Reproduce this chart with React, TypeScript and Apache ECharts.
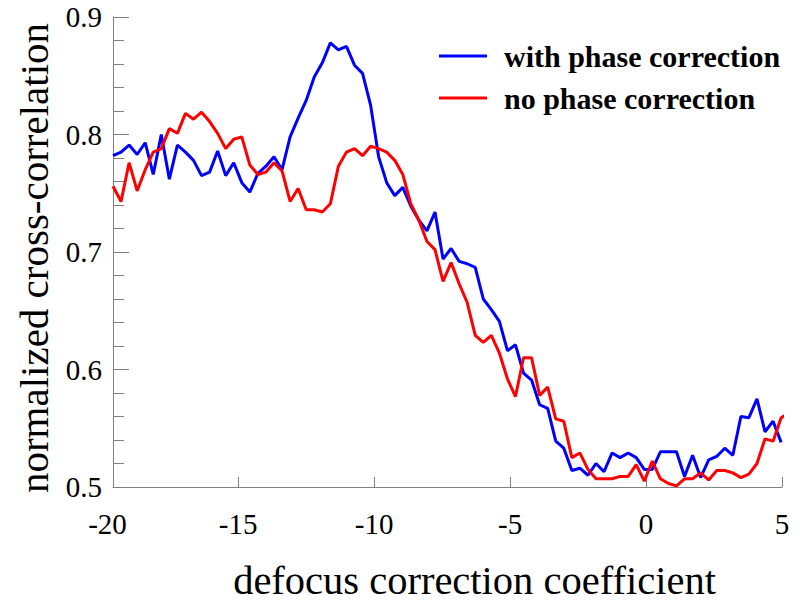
import React, { useEffect, useRef } from "react";
import * as echarts from "echarts";

// defocus correction coefficient (uniform sampling grid)
const xValues = [
  -19.6, -19.304, -19.008, -18.712, -18.416, -18.12, -17.824, -17.528, -17.232, -16.936,
  -16.64, -16.344, -16.048, -15.752, -15.456, -15.16, -14.864, -14.568, -14.272, -13.976,
  -13.68, -13.384, -13.088, -12.792, -12.496, -12.2, -11.904, -11.608, -11.312, -11.016,
  -10.72, -10.424, -10.128, -9.832, -9.536, -9.24, -8.944, -8.648, -8.352, -8.056,
  -7.76, -7.464, -7.168, -6.872, -6.576, -6.28, -5.984, -5.688, -5.392, -5.096,
  -4.8, -4.504, -4.208, -3.912, -3.616, -3.32, -3.024, -2.728, -2.432, -2.136,
  -1.84, -1.544, -1.248, -0.952, -0.656, -0.36, -0.064, 0.232, 0.528, 0.824,
  1.12, 1.416, 1.712, 2.008, 2.304, 2.6, 2.896, 3.192, 3.488, 3.784,
  4.08, 4.376, 4.672, 4.968, 5.264,
];

const withPhaseCorrection = [
  0.782, 0.785, 0.791, 0.783, 0.793, 0.766, 0.8, 0.762, 0.791, 0.785,
  0.778, 0.765, 0.768, 0.786, 0.765, 0.776, 0.759, 0.751, 0.767, 0.773,
  0.781, 0.77, 0.798, 0.814, 0.829, 0.849, 0.861, 0.878, 0.872, 0.875,
  0.859, 0.852, 0.825, 0.781, 0.759, 0.748, 0.755, 0.739, 0.727, 0.718,
  0.734, 0.694, 0.703, 0.692, 0.69, 0.687, 0.66, 0.651, 0.641, 0.616,
  0.621, 0.597, 0.591, 0.57, 0.567, 0.539, 0.533, 0.514, 0.516, 0.51,
  0.52, 0.513, 0.529, 0.525, 0.529, 0.525, 0.515, 0.515, 0.53, 0.53,
  0.53, 0.509, 0.527, 0.508, 0.523, 0.526, 0.533, 0.527, 0.56, 0.559,
  0.575, 0.547, 0.556, 0.538,
];

const noPhaseCorrection = [
  0.756, 0.743, 0.776, 0.752, 0.77, 0.785, 0.788, 0.805, 0.801, 0.818,
  0.813, 0.819, 0.811, 0.801, 0.788, 0.796, 0.798, 0.774, 0.766, 0.768,
  0.776, 0.769, 0.743, 0.754, 0.736, 0.736, 0.734, 0.741, 0.773, 0.785,
  0.788, 0.782, 0.79, 0.788, 0.785, 0.778, 0.766, 0.741, 0.727, 0.709,
  0.702, 0.675, 0.691, 0.673, 0.657, 0.629, 0.623, 0.629, 0.614, 0.592,
  0.577, 0.61, 0.61, 0.578, 0.585, 0.558, 0.556, 0.525, 0.529, 0.515,
  0.507, 0.507, 0.507, 0.509, 0.509, 0.519, 0.505, 0.522, 0.507, 0.503,
  0.501, 0.507, 0.507, 0.512, 0.506, 0.514, 0.514, 0.512, 0.508, 0.511,
  0.52, 0.541, 0.539, 0.559, 0.563,
];

const xTickValues = [-15, -10, -5, 0, 5];
const xLabelValues = [-19.6, -15, -10, -5, 0, 5];
const seriesNames = ["with phase correction", "no phase correction"];

const FONT = "Liberation Serif";
const AXIS_GRAY = "#808080";

export default function App() {
  const ref = useRef<HTMLDivElement>(null);

  useEffect(() => {
    if (!ref.current) return;
    const chart = echarts.init(ref.current, undefined, { renderer: "svg" });
    chart.setOption({
      animation: false,
      backgroundColor: "#ffffff",
      textStyle: { fontFamily: FONT },
      grid: {
        left: 113,
        top: 17,
        width: 669,
        height: 470,
        containLabel: false,
        outerBoundsMode: "none",
      },
      legend: {
        orient: "vertical",
        left: 439,
        top: 41,
        padding: 0,
        icon: "rect",
        itemWidth: 48,
        itemHeight: 3,
        itemGap: 12,
        data: seriesNames,
        textStyle: {
          fontFamily: FONT,
          fontWeight: "bold",
          fontSize: 30,
          lineHeight: 28,
          color: "#000",
          padding: [0, 0, 0, 12],
        },
      },
      xAxis: {
        type: "value",
        min: -19.6,
        max: 5,
        axisLine: { show: true, onZero: false, lineStyle: { color: AXIS_GRAY, width: 1 } },
        axisTick: {
          show: true,
          inside: true,
          length: 10,
          customValues: xTickValues,
          lineStyle: { color: AXIS_GRAY, width: 1 },
        },
        axisLabel: {
          customValues: xLabelValues,
          margin: 22,
          fontFamily: FONT,
          fontSize: 29,
          color: "#000",
          formatter: (v: number) => (v < -19 ? "{a|-20}" : String(v)),
          rich: {
            a: { fontFamily: FONT, fontSize: 29, color: "#000", padding: [0, 11, 0, 0] },
          },
        },
        splitLine: { show: false },
        name: "defocus correction coefficient",
        nameLocation: "middle",
        nameGap: 73,
        nameTextStyle: { fontFamily: FONT, fontSize: 40.5, color: "#000", padding: [0, 0, 0, 54] },
      },
      yAxis: {
        type: "value",
        min: 0.5,
        max: 0.9,
        interval: 0.1,
        axisLine: { show: true, onZero: false, lineStyle: { color: AXIS_GRAY, width: 1 } },
        axisTick: {
          show: true,
          inside: true,
          length: 16,
          lineStyle: { color: AXIS_GRAY, width: 1 },
        },
        minorTick: {
          show: true,
          splitNumber: 5,
          length: 11,
          lineStyle: { color: AXIS_GRAY, width: 1 },
        },
        axisLabel: {
          margin: 11,
          fontFamily: FONT,
          fontSize: 29,
          color: "#000",
          formatter: (v: number) => v.toFixed(1),
        },
        splitLine: { show: false },
        minorSplitLine: { show: false },
        name: "normalized cross-correlation",
        nameLocation: "middle",
        nameGap: 53,
        nameTextStyle: { fontFamily: FONT, fontSize: 41, color: "#000", padding: [0, 12, 0, 0] },
      },
      series: [
        {
          name: seriesNames[0],
          type: "line",
          data: withPhaseCorrection.map((y, i) => [xValues[i], y]),
          symbol: "none",
          clip: false,
          color: "#0000ff",
          lineStyle: { color: "#0000ff", width: 3 },
        },
        {
          name: seriesNames[1],
          type: "line",
          data: noPhaseCorrection.map((y, i) => [xValues[i], y]),
          symbol: "none",
          clip: false,
          color: "#ff0000",
          lineStyle: { color: "#ff0000", width: 3 },
        },
      ],
    });
    return () => chart.dispose();
  }, []);

  return <div ref={ref} style={{ width: 800, height: 603, position: "absolute", left: 0, top: 0 }} />;
}
